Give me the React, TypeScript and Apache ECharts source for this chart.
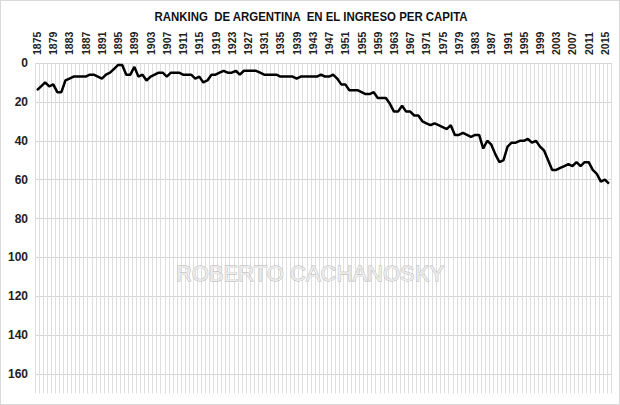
import React, { useEffect, useRef } from "react";
import * as echarts from "echarts";

const firstYear = 1875;
const lastYear = 2016;
const years: string[] = [];
for (let y = firstYear; y <= lastYear; y++) years.push(String(y));

// Ranking of Argentina in per-capita income
const ranking: number[] = [
  14, 12, 10, 12, 11, 15, 15, 9, 8, 7, // 1875-1884
  7, 7, 7, 6, 6, 7, 8, 6, 5, 3, // 1885-1894
  1, 1, 6, 6, 2, 7, 6, 9, 7, 6, // 1895-1904
  5, 5, 7, 5, 5, 5, 6, 6, 6, 8, // 1905-1914
  7, 10, 9, 6, 6, 5, 4, 5, 5, 4, // 1915-1924
  6, 4, 4, 4, 4, 5, 6, 6, 6, 6, // 1925-1934
  7, 7, 7, 7, 8, 7, 7, 7, 7, 7, // 1935-1944
  6, 7, 7, 6, 8, 11, 11, 14, 14, 14, // 1945-1954
  15, 16, 16, 15, 18, 18, 18, 21, 25, 25, // 1955-1964
  22, 25, 25, 27, 27, 30, 31, 32, 31, 32, // 1965-1974
  33, 34, 32, 37, 37, 36, 37, 38, 37, 37, // 1975-1984
  44, 40, 42, 47, 51, 50, 43, 41, 41, 40, // 1985-1994
  40, 39, 41, 40, 43, 45, 50, 55, 55, 54, // 1995-2004
  53, 52, 53, 51, 53, 51, 51, 55, 57, 61, // 2005-2014
  60, 62, // 2015-2016
];

const yTicks = [0, 20, 40, 60, 80, 100, 120, 140, 160];
const titleText = "RANKING  DE ARGENTINA  EN EL INGRESO PER CAPITA";
const watermarkText = "ROBERTO CACHANOSKY";

export default function App() {
  const ref = useRef<HTMLDivElement>(null);
  useEffect(() => {
    if (!ref.current) return;
    const chart = echarts.init(ref.current, null, { renderer: "svg" });
    chart.setOption({
      animation: false,
      backgroundColor: "#ffffff",
      graphic: [
        {
          type: "text",
          x: 310,
          y: 16,
          scaleX: 0.88,
          z: 10,
          style: {
            text: titleText,
            font: "bold 13px 'Liberation Sans', Arial, sans-serif",
            fill: "#111",
            textAlign: "center",
            textVerticalAlign: "middle",
          },
        },
        {
          type: "text",
          x: 309,
          y: 272,
          z: 1,
          style: {
            text: watermarkText,
            font: "22px 'Liberation Sans', Arial, sans-serif",
            fill: "#ececec",
            stroke: "#b0b0b0",
            lineWidth: 0.8,
            textAlign: "center",
            textVerticalAlign: "middle",
          },
        },
      ],
      grid: { left: 34, right: 8, top: 62, bottom: 10.5 },
      xAxis: {
        type: "category",
        data: years,
        position: "top",
        boundaryGap: true,
        axisLine: { show: false },
        axisTick: { show: false },
        axisLabel: {
          interval: 3,
          rotate: 90,
          margin: 8,
          fontFamily: "'Liberation Sans', Arial, sans-serif",
          fontSize: 10.5,
          fontWeight: "bold",
          color: "#222",
        },
        splitLine: {
          show: true,
          interval: 0,
          lineStyle: { color: "#dedede", width: 1 },
        },
      },
      yAxis: {
        type: "value",
        inverse: true,
        min: 0,
        max: 170,
        interval: 20,
        axisLine: { show: false },
        axisTick: { show: false },
        axisLabel: {
          margin: 7,
          fontFamily: "'Liberation Sans', Arial, sans-serif",
          fontSize: 12,
          fontWeight: "bold",
          color: "#222",
          formatter: (v: number) => (yTicks.includes(v) ? String(v) : ""),
        },
        splitLine: {
          show: true,
          showMaxLine: false,
          lineStyle: { color: "#d4d4d4", width: 1 },
        },
      },
      series: [
        {
          type: "line",
          data: ranking,
          showSymbol: false,
          symbol: "none",
          z: 5,
          lineStyle: { color: "#000", width: 2.5 },
        },
      ],
    });
    return () => chart.dispose();
  }, []);
  return (
    <div
      ref={ref}
      style={{
        position: "fixed",
        left: 0,
        top: 0,
        width: 620,
        height: 405,
        boxSizing: "border-box",
        border: "1px solid #d9d9d9",
        background: "#fff",
      }}
    />
  );
}
